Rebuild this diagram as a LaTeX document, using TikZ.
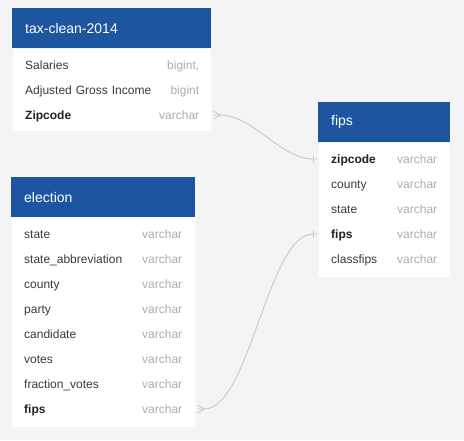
\documentclass[tikz,border=0pt]{standalone}
\usepackage{fontspec}
\setmainfont{Liberation Sans}
\usetikzlibrary{positioning}
\definecolor{hdrblue}{HTML}{1E55A1}
\definecolor{bgpage}{HTML}{F4F4F4}
\definecolor{fieldtext}{HTML}{3A3A3A}
\definecolor{keytext}{HTML}{222222}
\definecolor{typetext}{HTML}{ADADAD}
\definecolor{linkgray}{HTML}{C9C9C9}

\begin{document}
\begin{tikzpicture}[x=1pt,y=-1pt,
  tablehead/.style={anchor=north west,fill=hdrblue,text=white,minimum height=40pt,
    inner xsep=13pt,inner ysep=0pt,align=left,font=\fontsize{14}{16}\selectfont},
  tablebody/.style={anchor=north west,fill=white,draw=black!4,line width=1pt,inner sep=0pt},
  row/.style={anchor=west,minimum height=25pt,text width=#1,inner xsep=13pt,inner ysep=0pt,
    text height=9pt,text depth=0pt,align=left,text=fieldtext,font=\fontsize{12}{14}\selectfont},
  keyrow/.style={font=\fontsize{12}{14}\selectfont\bfseries,text=keytext},
  plainrow/.style={},
  typetxt/.style={inner sep=0pt,text height=9pt,text depth=0pt,text=typetext,
    font=\fontsize{12}{14}\selectfont},
  link/.style={draw=linkgray,line width=0.9pt}]

\useasboundingbox[fill=bgpage] (0,0) rectangle (464,440);

% tax-clean-2014
\node[tablebody,minimum width=199pt,minimum height=83pt] (tax) at (12,48) {};
\node[tablehead,text width=173pt] (tax-head) at (12,8) {tax-clean-2014};
\foreach \f/\t/\k [count=\i] in {Salaries/{bigint,}/plainrow,
    Adjusted Gross Income/bigint/plainrow,Zipcode/varchar/keyrow}
  {\node[row=173pt,\k] (tax-\i) at (12,40+25*\i) {\f};
   \node[typetxt,left=12pt of tax-\i.east] {\t};}

% fips
\node[tablebody,minimum width=132pt,minimum height=135pt] (fips) at (318,142) {};
\node[tablehead,text width=106pt] (fips-head) at (318,102) {fips};
\foreach \f/\k [count=\i] in {zipcode/keyrow,county/plainrow,state/plainrow,
    fips/keyrow,classfips/plainrow}
  {\node[row=106pt,\k] (fips-\i) at (318,134+25*\i) {\f};
   \node[typetxt,left=13pt of fips-\i.east] {varchar};}

% election
\node[tablebody,minimum width=184pt,minimum height=210pt] (ele) at (11,217) {};
\node[tablehead,text width=158pt] (ele-head) at (11,177) {election};
\foreach \f/\k [count=\i] in {state/plainrow,state\_abbreviation/plainrow,county/plainrow,
    party/plainrow,candidate/plainrow,votes/plainrow,fraction\_votes/plainrow,fips/keyrow}
  {\node[row=158pt,\k] (ele-\i) at (11,209+25*\i) {\f};
   \node[typetxt,left=13pt of ele-\i.east] {varchar};}

% relations: many side (crow's foot) and one side (bar)
\draw[link] ([xshift=2pt,yshift=4pt]tax-3.east) -- ([xshift=9pt]tax-3.east)
  -- ([xshift=2pt,yshift=-4pt]tax-3.east);
\draw[link] ([xshift=2pt]tax-3.east) -- ([xshift=9pt]tax-3.east)
  .. controls +(32,0) and +(-32,0) .. ([xshift=-5pt]fips-1.west) -- (fips-1.west);
\draw[link] ([xshift=-5pt,yshift=4pt]fips-1.west) -- ([xshift=-5pt,yshift=-4pt]fips-1.west);

\draw[link] ([xshift=2pt,yshift=4pt]ele-8.east) -- ([xshift=9pt]ele-8.east)
  -- ([xshift=2pt,yshift=-4pt]ele-8.east);
\draw[link] ([xshift=2pt]ele-8.east) -- ([xshift=9pt]ele-8.east)
  .. controls +(45,0) and +(-45,0) .. ([xshift=-5pt]fips-4.west) -- (fips-4.west);
\draw[link] ([xshift=-5pt,yshift=4pt]fips-4.west) -- ([xshift=-5pt,yshift=-4pt]fips-4.west);
\end{tikzpicture}
\end{document}
